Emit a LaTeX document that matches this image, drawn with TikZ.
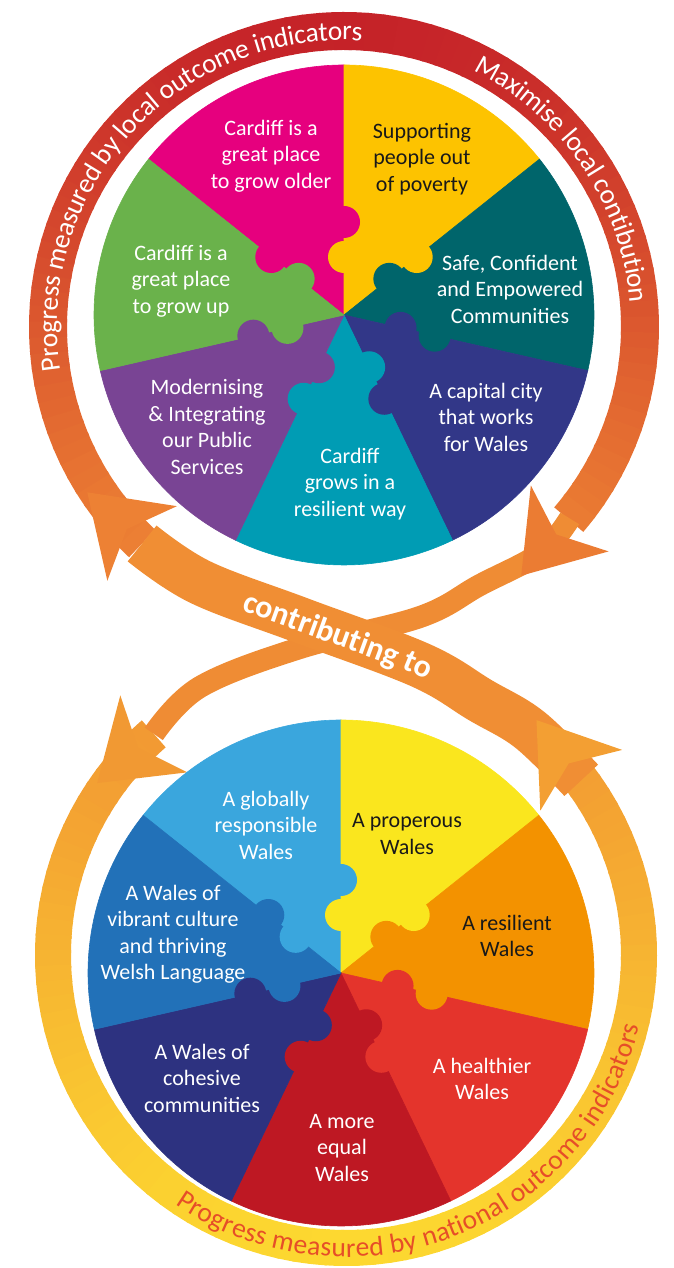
\documentclass[tikz,border=0pt]{standalone}
\usepackage{fontspec}
\setmainfont{Carlito}
\usetikzlibrary{calc,decorations.text}

\definecolor{ribTop}{RGB}{196,32,40}
\definecolor{ribMid}{RGB}{238,132,52}
\definecolor{ribBot}{RGB}{253,218,48}
\definecolor{natText}{RGB}{230,78,40}

\definecolor{lcMag}{RGB}{230,0,126}
\definecolor{lcYel}{RGB}{253,195,0}
\definecolor{lcTeal}{RGB}{0,101,107}
\definecolor{lcNavy}{RGB}{50,55,136}
\definecolor{lcCyan}{RGB}{0,156,180}
\definecolor{lcPurp}{RGB}{121,68,148}
\definecolor{lcGreen}{RGB}{106,178,75}

\definecolor{ncLBlue}{RGB}{58,166,221}
\definecolor{ncYel}{RGB}{250,230,30}
\definecolor{ncOrange}{RGB}{243,146,0}
\definecolor{ncRed}{RGB}{228,52,44}
\definecolor{ncDRed}{RGB}{190,24,35}
\definecolor{ncNavy}{RGB}{45,50,128}
\definecolor{ncBlue}{RGB}{34,113,184}

\newcommand\ribcolor[1]{%
  \pgfmathtruncatemacro\rpa{max(0,min(100,(1253-(#1))/5.45))}%
  \pgfmathtruncatemacro\rpb{max(0,min(100,(708-(#1))/7))}%
  \ifnum\rpb>0 \colorlet{rc}{ribBot!\rpb!ribMid}\else\colorlet{rc}{ribMid!\rpa!ribTop}\fi}

\newcommand\barbhead[2]{%
  \fill[rc, shift={(#1)}, rotate=#2] (75,0) -- (0,51) -- (21,0) -- (0,-51) -- cycle;}

\newcommand\knobs[4]{%
  \fill[#3] ($(#1)+(#2:58)$) circle[radius=16];
  \fill[#4] ($(#1)+(#2:93)$) circle[radius=16];}

\begin{document}
\begin{tikzpicture}[x=1pt, y=1pt,
  lbl/.style={align=center, text=white, font=\fontsize{22}{26.5}\selectfont},
  lbld/.style={lbl, text=black!90}]
\useasboundingbox (0,0) rectangle (674,1268);

\coordinate (T) at (344,941);
\coordinate (B) at (346,313);
\coordinate (local) at (344,953);
\coordinate (nat) at (341,295);
\coordinate (A1) at ([shift={(227:296)}]T);
\coordinate (A2) at ([shift={(-40.3:296)}]T);
\coordinate (A3) at ([shift={(131:293)}]B);
\coordinate (A4) at ([shift={(36.6:293)}]B);

\foreach \ang in {131,134,...,395}{
  \pgfmathsetmacro\ym{313+293*sin(\ang+1.5)}
  \ribcolor{\ym}
  \draw[rc, line width=36pt] ([shift={(\ang:293)}]B) arc[start angle=\ang, end angle=\ang+3.6, radius=293];
}
\foreach \ang in {227,224,...,-37}{
  \pgfmathsetmacro\ym{941+296*sin(\ang-1.5)}
  \ribcolor{\ym}
  \draw[rc, line width=38pt] ([shift={(\ang:296)}]T) arc[start angle=\ang, end angle=\ang-3.6, radius=296];
}

\ribcolor{640}
\draw[rc, line width=22pt] plot[smooth, tension=0.6] coordinates {(A2) (540.7,715.2) (480,683) (420,651) (300,620) (200,581) (A3)};
\ribcolor{750}\barbhead{A2}{-130.3}
\ribcolor{534}\barbhead{A3}{221}

\ribcolor{620}
\draw[rc, line width=46pt] plot[smooth, tension=0.6] coordinates {(A4) (530,538) (480,568) (420,603) (300,648) (200,686) (A1)};
\ribcolor{488}\barbhead{A4}{126.6}
\ribcolor{724}\barbhead{A1}{137}

\path[decorate, decoration={text along path, text align=center, raise=-9pt, text color=white,
  text={|\fontsize{27.5}{27.5}\selectfont|Progress measured by local outcome indicators}}]
  ([shift={(198:296)}]T) arc[start angle=198, end angle=77, radius=296];
\path[decorate, decoration={text along path, text align=center, raise=-9pt, text color=white,
  text={|\fontsize{27.5}{27.5}\selectfont|Maximise local contibution}}]
  ([shift={(72:296)}]T) arc[start angle=72, end angle=-4, radius=296];
\path[decorate, decoration={text along path, text align=center, raise=-9pt, text color=natText,
  text={|\fontsize{27.5}{27.5}\selectfont|Progress measured by national outcome indicators}}]
  ([shift={(226:293)}]B) arc[start angle=226, end angle=356, radius=293];
\path[decorate, decoration={text along path, text align={left indent=118pt}, raise=-11pt, text color=white,
  text={|\bfseries\fontsize{32}{32}\selectfont|contributing to}}]
  plot[smooth, tension=0.6] coordinates {(A1) (200,686) (300,648) (420,603) (480,568) (530,538) (A4)};

\foreach \ang/\col in {90/lcMag, 38.57/lcYel, -12.86/lcTeal, -64.29/lcNavy, -115.71/lcCyan, -167.14/lcPurp, 141.43/lcGreen}
  \filldraw[\col, line width=0.6pt] (local) -- ([shift={(\ang:250)}]local) arc[start angle=\ang, end angle=\ang+51.43, radius=250] -- cycle;
\knobs{local}{90}{lcYel}{lcMag}
\knobs{local}{38.57}{lcTeal}{lcYel}
\knobs{local}{-12.86}{lcNavy}{lcTeal}
\knobs{local}{-64.29}{lcCyan}{lcNavy}
\knobs{local}{-115.71}{lcPurp}{lcCyan}
\knobs{local}{-167.14}{lcGreen}{lcPurp}
\knobs{local}{141.43}{lcGreen}{lcMag}

\foreach \ang/\col in {90/ncLBlue, 38.57/ncYel, -12.86/ncOrange, -64.29/ncRed, -115.71/ncDRed, -167.14/ncNavy, 141.43/ncBlue}
  \filldraw[\col, line width=0.6pt] (nat) -- ([shift={(\ang:253)}]nat) arc[start angle=\ang, end angle=\ang+51.43, radius=253] -- cycle;
\knobs{nat}{90}{ncYel}{ncLBlue}
\knobs{nat}{38.57}{ncOrange}{ncYel}
\knobs{nat}{-12.86}{ncRed}{ncOrange}
\knobs{nat}{-64.29}{ncDRed}{ncRed}
\knobs{nat}{-115.71}{ncNavy}{ncDRed}
\knobs{nat}{-167.14}{ncBlue}{ncNavy}
\knobs{nat}{141.43}{ncLBlue}{ncBlue}

\node[lbl] (older) at (271,1112) {Cardiff is a\\great place\\to grow older};
\node[lbld] (poverty) at (422,1109) {Supporting\\people out\\of poverty};
\node[lbl] (safe) at (510,979) {Safe, Confident\\and Empowered\\Communities};
\node[lbl] (capital) at (486,851) {A capital city\\that works\\for Wales};
\node[lbl] (grows) at (350,784) {Cardiff\\grows in a\\resilient way};
\node[lbl] (modern) at (207,841) {Modernising\\\& Integrating\\our Public\\Services};
\node[lbl] (growup) at (181,987) {Cardiff is a\\great place\\to grow up};

\node[lbl] (global) at (266,443) {A globally\\responsible\\Wales};
\node[lbld] (prosper) at (407,434) {A properous\\Wales};
\node[lbld] (resil) at (507,332) {A resilient\\Wales};
\node[lbl] (health) at (482,189) {A healthier\\Wales};
\node[lbl] (equal) at (342,120) {A more\\equal\\Wales};
\node[lbl] (cohes) at (202,190) {A Wales of\\cohesive\\communities};
\node[lbl] (vibrant) at (173,333.5) {A Wales of\\vibrant culture\\and thriving\\Welsh Language};
\end{tikzpicture}
\end{document}
